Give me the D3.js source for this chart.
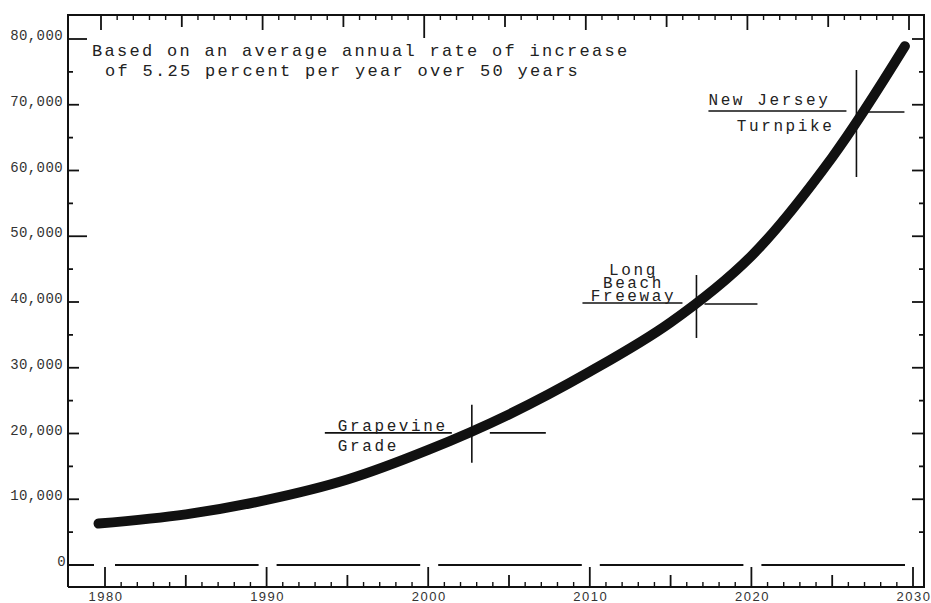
<!DOCTYPE html>
<html>
<head>
<meta charset="utf-8">
<script src="https://cdn.jsdelivr.net/npm/d3@7"></script>
<style>
body { margin: 0; background: #fff; }
svg { display: block; }
.mono { font-family: "Liberation Mono", "Courier New", monospace; }
</style>
</head>
<body>
<div id="grafico"></div>
<script>
// Datos
var years = [1979.6, 1985, 1990, 1995, 2000, 2005, 2010, 2015, 2020, 2025, 2029.5];
var traffic = [6300, 7700, 9900, 13000, 17500, 22900, 29400, 36900, 47000, 62000, 78900];

var yTicks = [0, 10000, 20000, 30000, 40000, 50000, 60000, 70000, 80000];
var xTicks = [1980, 1990, 2000, 2010, 2020, 2030];

var noteNames = [["Grapevine", "Grade"], ["Long", "Beach", "Freeway"], ["New Jersey", "Turnpike"]];
var noteYears = [2002.7, 2016.6, 2026.5];
var noteValues = [20100, 39700, 68900];

var subtitle = ["Based on an average annual rate of increase", "of 5.25 percent per year over 50 years"];

var width = 931, height = 603;
var mLeft = 68, mRight = 924, mTop = 15, mBottom = 587;

var svg = d3.select("#grafico").append("svg")
    .attr("width", width)
    .attr("height", height);

var x = d3.scaleLinear().domain([1980, 2030]).range([105, 913]);
var y = d3.scaleLinear().domain([0, 80000]).range([565, 39]);
var fmt = d3.format(",");

var ink = "#111";

// marco
svg.append("path")
    .attr("d", "M" + mLeft + "," + mBottom + "V" + mTop + "H" + mRight + "V" + mBottom + "H" + mLeft)
    .attr("fill", "none")
    .attr("stroke", ink)
    .attr("stroke-width", 2);

// ticks de años (abajo y arriba)
var allYears = d3.range(1980, 2031);
svg.append("g").selectAll("line")
    .data(allYears)
    .enter().append("line")
    .attr("x1", function(d) { return x(d); })
    .attr("x2", function(d) { return x(d); })
    .attr("y1", mBottom)
    .attr("y2", function(d) {
        if (d % 10 == 0) return mBottom - 20;
        if (d % 5 == 0) return mBottom - 12;
        return mBottom - 5;
    })
    .attr("stroke", ink)
    .attr("stroke-width", function(d) { return d % 5 == 0 ? 1.8 : 1.4; });

svg.append("g")
    .attr("transform", "translate(-4,0)")
    .selectAll("line")
    .data(allYears)
    .enter().append("line")
    .attr("x1", function(d) { return x(d); })
    .attr("x2", function(d) { return x(d); })
    .attr("y1", mTop)
    .attr("y2", function(d) {
        if (d == 2000) return mTop + 23;
        if (d % 10 == 0) return mTop + 15;
        if (d % 5 == 0) return mTop + 12;
        return mTop + 5;
    })
    .attr("stroke", ink)
    .attr("stroke-width", function(d) { return d % 5 == 0 ? 1.8 : 1.4; });

// linea del cero cortada en las decadas
var segs = [[mLeft, x(1980) - 11]];
for (var i = 0; i < xTicks.length - 1; i++) {
    segs.push([x(xTicks[i]) + 10, x(xTicks[i + 1]) - 8]);
}
svg.append("g").selectAll("line")
    .data(segs)
    .enter().append("line")
    .attr("x1", function(d) { return d[0]; })
    .attr("x2", function(d) { return d[1]; })
    .attr("y1", y(0))
    .attr("y2", y(0))
    .attr("stroke", ink)
    .attr("stroke-width", 2);

// ticks eje y (izquierda y derecha)
var allY = d3.range(5000, 80001, 5000);
svg.append("g").selectAll("line")
    .data(allY)
    .enter().append("line")
    .attr("x1", mLeft)
    .attr("x2", function(d) {
        if (d == 80000 || d == 50000) return mLeft + 19;
        if (d % 10000 == 0) return mLeft + 11;
        return mLeft + 5;
    })
    .attr("y1", function(d) { return y(d); })
    .attr("y2", function(d) { return y(d); })
    .attr("stroke", ink)
    .attr("stroke-width", 1.8);

svg.append("g").selectAll("line")
    .data(allY)
    .enter().append("line")
    .attr("x1", mRight)
    .attr("x2", function(d) { return d % 10000 == 0 ? mRight - 12 : mRight - 5; })
    .attr("y1", function(d) { return y(d); })
    .attr("y2", function(d) { return y(d); })
    .attr("stroke", ink)
    .attr("stroke-width", 1.8);

// etiquetas
svg.append("g").selectAll("text")
    .data(yTicks)
    .enter().append("text")
    .attr("class", "mono")
    .attr("x", function(d) { return d == 0 ? 66 : 63; })
    .attr("y", function(d) { return y(d) + 1; })
    .attr("text-anchor", "end")
    .attr("font-size", 14)
    .attr("letter-spacing", 0.4)
    .attr("fill", "#333")
    .text(function(d) { return fmt(d); });

svg.append("g").selectAll("text")
    .data(xTicks)
    .enter().append("text")
    .attr("x", function(d) { return x(d) + 1; })
    .attr("y", 601)
    .attr("text-anchor", "middle")
    .attr("font-family", "Liberation Sans, Arial, sans-serif")
    .attr("font-size", 13)
    .attr("letter-spacing", 1.5)
    .attr("fill", "#333")
    .text(function(d) { return d; });

// curva
var data = years.map(function(d, i) { return {year: d, value: traffic[i]}; });
var line = d3.line()
    .x(function(d) { return x(d.year); })
    .y(function(d) { return y(d.value); })
    .curve(d3.curveCatmullRom.alpha(0.5));

svg.append("path")
    .datum(data)
    .attr("d", line)
    .attr("fill", "none")
    .attr("stroke", ink)
    .attr("stroke-width", 10)
    .attr("stroke-linecap", "round");

// texto superior
svg.append("g").selectAll("text")
    .data(subtitle)
    .enter().append("text")
    .attr("class", "mono")
    .attr("x", function(d, i) { return i == 0 ? 92 : 105; })
    .attr("y", function(d, i) { return 56 + i * 20; })
    .attr("font-size", 17)
    .attr("letter-spacing", 2.3)
    .attr("fill", "#222")
    .text(function(d) { return d; });

// anotaciones
var notes = svg.append("g");
var lineAt = function(x1, y1, x2, y2) {
    notes.append("line")
        .attr("x1", x1).attr("y1", y1)
        .attr("x2", x2).attr("y2", y2)
        .attr("stroke", ink)
        .attr("stroke-width", 1.6);
};
var textAt = function(t, tx, ty, anchor) {
    notes.append("text")
        .attr("class", "mono")
        .attr("x", tx)
        .attr("y", ty)
        .attr("text-anchor", anchor)
        .attr("font-size", 16)
        .attr("letter-spacing", 2.6)
        .attr("fill", "#222")
        .text(t);
};

// Grapevine Grade
var cx = x(noteYears[0]), cy = y(noteValues[0]);
lineAt(cx - 147, cy, cx - 20, cy);
lineAt(cx, cy - 28, cx, cy + 30);
lineAt(cx + 18, cy, cx + 74, cy);
textAt(noteNames[0][0], cx - 134, cy - 2, "start");
textAt(noteNames[0][1], cx - 134, cy + 18, "start");

// Long Beach Freeway
cx = x(noteYears[1]); cy = y(noteValues[1]);
lineAt(cx - 114, cy - 1, cx - 14, cy - 1);
lineAt(cx, cy - 29, cx, cy + 34);
lineAt(cx + 8, cy, cx + 61, cy);
noteNames[1].forEach(function(t, i) {
    textAt(t, cx - 63, cy - 29 + i * 13, "middle");
});

// New Jersey Turnpike
cx = x(noteYears[2]); cy = y(noteValues[2]);
lineAt(cx - 148, cy - 1, cx - 10, cy - 1);
lineAt(cx, cy - 42, cx, cy + 65);
lineAt(cx + 10, cy, cx + 48, cy);
textAt(noteNames[2][0], cx - 148, cy - 7, "start");
textAt(noteNames[2][1], cx - 22, cy + 19, "end");
</script>
</body>
</html>
